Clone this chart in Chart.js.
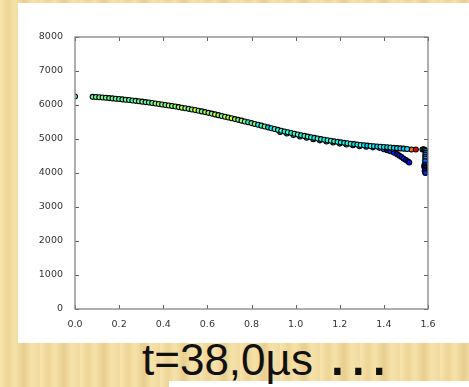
<!DOCTYPE html>
<html>
<head>
<meta charset="utf-8">
<script src="https://cdn.jsdelivr.net/npm/chart.js@4"></script>
<style>
  html, body { margin: 0; padding: 0; width: 469px; height: 387px; overflow: hidden; }
  body {
    position: relative;
    background: repeating-linear-gradient(90deg, #f7e4ae 0px, #eed595 8px, #f6e2a9 15px, #e8ce8d 24px, #f5e2aa 32px, #f1da9e 40px);
  }
  #panel { position: absolute; left: 18px; top: 3px; width: 451px; height: 340px; background: #fff; }
  #strip { position: absolute; left: 169px; top: 381px; width: 300px; height: 6px; background: #fff; }
  #cap {
    position: absolute; left: 142px; top: 338px;
    font: 44px "Liberation Sans", Arial, sans-serif; line-height: 1;
    color: #111; white-space: nowrap;
  }
  #cap span { font-size: 66px; line-height: 0; }
  #chart { position: absolute; left: 0; top: 0; }
</style>
</head>
<body>
<div id="panel"></div>
<div id="strip"></div>
<div id="cap">t=38,0µs <span>…</span></div>
<canvas id="chart" width="469" height="387"></canvas>

<script>
// --- data ---
// axis ranges
const xMin = 0, xMax = 1.6, xStep = 0.2;
const yMin = 0, yMax = 8000, yStep = 1000;

// lone point at the left edge
const loneX = [0.0];
const loneY = [6250];
const loneC = [0.46];

// main curve
const curveX = [0.080, 0.095, 0.110, 0.125, 0.140, 0.155, 0.170, 0.185, 0.200, 0.215,
  0.230, 0.245, 0.260, 0.275, 0.290, 0.305, 0.320, 0.335, 0.350, 0.365,
  0.380, 0.395, 0.410, 0.425, 0.440, 0.455, 0.470, 0.485, 0.500, 0.515,
  0.530, 0.545, 0.560, 0.575, 0.590, 0.605, 0.620, 0.635, 0.650, 0.665,
  0.680, 0.695, 0.710, 0.725, 0.740, 0.755, 0.770, 0.785, 0.800, 0.815,
  0.830, 0.845, 0.860, 0.875, 0.890, 0.905, 0.920, 0.935, 0.950, 0.965,
  0.980, 0.995, 1.010, 1.025, 1.040, 1.055, 1.070, 1.085, 1.100, 1.115,
  1.130, 1.145, 1.160, 1.175, 1.190, 1.205, 1.220, 1.235, 1.250, 1.265,
  1.280, 1.295, 1.310, 1.325, 1.340, 1.355, 1.370, 1.385, 1.400, 1.415,
  1.430, 1.445, 1.460, 1.475, 1.490, 1.505];
const curveY = [6240, 6235, 6228, 6220, 6212, 6203, 6194, 6185, 6175, 6165,
  6155, 6145, 6134, 6122, 6110, 6098, 6085, 6072, 6059, 6045,
  6030, 6016, 6001, 5986, 5970, 5954, 5938, 5921, 5904, 5887,
  5869, 5851, 5832, 5812, 5791, 5769, 5747, 5724, 5701, 5678,
  5655, 5632, 5609, 5586, 5563, 5540, 5516, 5492, 5468, 5443,
  5418, 5393, 5368, 5343, 5318, 5293, 5268, 5244, 5220, 5197,
  5175, 5153, 5132, 5111, 5091, 5071, 5052, 5033, 5015, 4997,
  4980, 4963, 4947, 4931, 4916, 4901, 4887, 4873, 4860, 4848,
  4836, 4825, 4815, 4805, 4796, 4788, 4780, 4772, 4764, 4756,
  4748, 4740, 4732, 4724, 4716, 4708];
const curveC = [0.47, 0.48, 0.47, 0.49, 0.48, 0.47, 0.49, 0.48, 0.47, 0.46,
  0.48, 0.47, 0.45, 0.46, 0.48, 0.50, 0.47, 0.45, 0.49, 0.51,
  0.53, 0.50, 0.48, 0.55, 0.51, 0.49, 0.53, 0.57, 0.50, 0.48,
  0.52, 0.58, 0.51, 0.49, 0.55, 0.53, 0.50, 0.59, 0.52, 0.49,
  0.56, 0.51, 0.58, 0.50, 0.48, 0.53, 0.47, 0.42, 0.46, 0.49,
  0.39, 0.44, 0.47, 0.34, 0.37, 0.42, 0.39, 0.46, 0.37, 0.42,
  0.39, 0.44, 0.46, 0.38, 0.42, 0.45, 0.39, 0.37, 0.43, 0.40,
  0.38, 0.42, 0.39, 0.44, 0.38, 0.40, 0.37, 0.42, 0.39, 0.35,
  0.38, 0.40, 0.36, 0.34, 0.39, 0.36, 0.33, 0.38, 0.35, 0.34,
  0.39, 0.33, 0.36, 0.34, 0.32, 0.35];

// darker strand just under the curve
const lowerX = [0.93, 0.96, 0.99, 1.02, 1.05, 1.08, 1.11, 1.14, 1.17, 1.20,
  1.23, 1.26, 1.29, 1.32, 1.35, 1.38, 1.41, 1.44];
const lowerY = [5205, 5160, 5115, 5075, 5035, 4995, 4960, 4925, 4895, 4865,
  4840, 4815, 4790, 4770, 4755, 4740, 4725, 4710];
const lowerC = [0.30, 0.28, 0.31, 0.29, 0.30, 0.27, 0.30, 0.28, 0.31, 0.29,
  0.30, 0.28, 0.29, 0.30, 0.27, 0.29, 0.28, 0.26];

// branch bending down near the end
const branchX = [1.400, 1.415, 1.430, 1.445, 1.460, 1.470, 1.480, 1.490, 1.500, 1.510, 1.515];
const branchY = [4700, 4670, 4640, 4600, 4555, 4510, 4470, 4420, 4380, 4340, 4310];
const branchC = [0.22, 0.19, 0.17, 0.16, 0.15, 0.16, 0.14, 0.15, 0.14, 0.15, 0.14];

// orange + red points at the tip
const tipX = [1.525, 1.545];
const tipY = [4690, 4690];
const tipC = [0.78, 0.90];

// cluster against the right axis
const edgeX = [1.575, 1.580, 1.585, 1.590, 1.590, 1.588, 1.588, 1.588, 1.587, 1.590,
  1.585, 1.583, 1.585, 1.587, 1.590, 1.585, 1.588];
const edgeY = [4690, 4700, 4680, 4650, 4600, 4540, 4480, 4420, 4350, 4180,
  4250, 4200, 4150, 4100, 4060, 4050, 4000];
const edgeC = [0.32, 0.28, 0.20, 0.32, 0.30, 0.28, 0.24, 0.28, 0.24, 0.22,
  0.18, 0.16, 0.15, 0.16, 0.18, 0.15, 0.15];

// matplotlib "jet" colour map
function jet(c) {
  const f = v => Math.round(255 * Math.max(0, Math.min(1, v)));
  const r = f(1.5 - Math.abs(4 * c - 3));
  const g = f(1.5 - Math.abs(4 * c - 2));
  const b = f(1.5 - Math.abs(4 * c - 1));
  return `rgb(${r},${g},${b})`;
}

function makeSet(xs, ys, cs) {
  return {
    data: xs.map((x, i) => ({ x: x, y: ys[i] })),
    pointBackgroundColor: cs.map(jet),
    pointBorderColor: "#000",
    pointBorderWidth: 1.1,
    pointRadius: 2.5,
    showLine: false
  };
}

// frame on all four sides + inward ticks (matplotlib classic look)
const frameTicks = {
  id: "frameTicks",
  afterDraw(chart) {
    const { ctx, chartArea: a, scales } = chart;
    ctx.save();
    ctx.strokeStyle = "#3a3a3a";
    ctx.lineWidth = 0.8;
    ctx.beginPath();
    scales.x.ticks.forEach(t => {
      const px = Math.round(scales.x.getPixelForValue(t.value)) + 0.5;
      ctx.moveTo(px, a.bottom); ctx.lineTo(px, a.bottom - 4);
      ctx.moveTo(px, a.top); ctx.lineTo(px, a.top + 4);
    });
    scales.y.ticks.forEach(t => {
      const py = Math.round(scales.y.getPixelForValue(t.value)) + 0.5;
      ctx.moveTo(a.left, py); ctx.lineTo(a.left + 4, py);
      ctx.moveTo(a.right, py); ctx.lineTo(a.right - 4, py);
    });
    ctx.stroke();
    ctx.strokeStyle = "#858585";
    ctx.lineWidth = 1.3;
    ctx.strokeRect(a.left, a.top, a.right - a.left, a.bottom - a.top);
    ctx.restore();
  }
};

new Chart(document.getElementById("chart"), {
  type: "scatter",
  data: {
    datasets: [
      makeSet(loneX, loneY, loneC),
      makeSet(curveX, curveY, curveC),
      makeSet(lowerX, lowerY, lowerC),
      makeSet(branchX, branchY, branchC),
      makeSet(tipX, tipY, tipC),
      makeSet(edgeX, edgeY, edgeC)
    ]
  },
  options: {
    responsive: false,
    devicePixelRatio: 1,
    animation: false,
    layout: { padding: { left: 0, top: 37, right: 41, bottom: 0 } },
    plugins: { legend: { display: false }, tooltip: { enabled: false } },
    scales: {
      x: {
        type: "linear",
        min: xMin, max: xMax,
        grid: { display: false },
        border: { display: false },
        afterFit: s => { s.height = 78; },
        ticks: {
          stepSize: xStep,
          padding: 2,
          color: "#333",
          font: { family: "DejaVu Sans", size: 9.5 },
          maxRotation: 0,
          callback: v => v.toFixed(1)
        }
      },
      y: {
        type: "linear",
        min: yMin, max: yMax,
        grid: { display: false },
        border: { display: false },
        afterFit: s => { s.width = 75; },
        ticks: {
          stepSize: yStep,
          padding: 4,
          color: "#333",
          font: { family: "DejaVu Sans", size: 9.5 },
          callback: v => String(v)
        }
      }
    }
  },
  plugins: [frameTicks]
});
</script>
</body>
</html>
